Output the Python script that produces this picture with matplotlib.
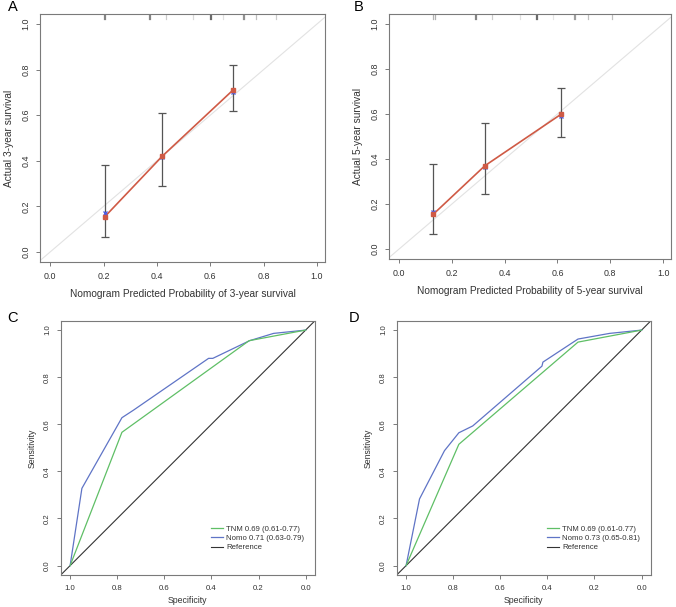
import matplotlib
matplotlib.use("Agg")
import matplotlib.pyplot as plt

plt.rcParams['font.family'] = ['Liberation Sans', 'DejaVu Sans']

# ---- Calibration data (A: 3-year, B: 5-year)
a_pred = [0.205, 0.42, 0.685]
a_obs = [0.155, 0.42, 0.71]
a_ideal = [0.17, 0.415, 0.70]
a_lo = [0.065, 0.29, 0.62]
a_hi = [0.38, 0.61, 0.82]
a_rug = [0.203, 0.206, 0.372, 0.375, 0.435, 0.537, 0.599, 0.602, 0.648, 0.722, 0.725, 0.771, 0.846]
a_rug_alpha = [0.45, 0.45, 0.45, 0.45, 0.2, 0.15, 0.55, 0.55, 0.12, 0.4, 0.4, 0.25, 0.2]

b_pred = [0.13, 0.325, 0.615]
b_obs = [0.155, 0.37, 0.60]
b_ideal = [0.165, 0.365, 0.59]
b_lo = [0.065, 0.245, 0.50]
b_hi = [0.38, 0.56, 0.715]
b_rug = [0.13, 0.136, 0.288, 0.291, 0.353, 0.459, 0.519, 0.523, 0.582, 0.662, 0.666, 0.714, 0.807]
b_rug_alpha = [0.3, 0.3, 0.45, 0.45, 0.2, 0.12, 0.55, 0.55, 0.1, 0.35, 0.35, 0.25, 0.25]

# ---- ROC data
c_nomo_spec = [1.0, 0.950, 0.780, 0.731, 0.412, 0.394, 0.238, 0.136, 0.0]
c_nomo_sens = [0.0, 0.328, 0.628, 0.660, 0.880, 0.880, 0.955, 0.986, 1.0]
c_tnm_spec = [1.0, 0.780, 0.240, 0.0]
c_tnm_sens = [0.0, 0.566, 0.955, 1.0]
c_labels = ["TNM 0.69 (0.61-0.77)", "Nomo 0.71 (0.63-0.79)", "Reference"]

d_nomo_spec = [1.0, 0.943, 0.837, 0.776, 0.717, 0.423, 0.419, 0.270, 0.136, 0.0]
d_nomo_sens = [0.0, 0.283, 0.488, 0.564, 0.593, 0.847, 0.864, 0.962, 0.986, 1.0]
d_tnm_spec = [1.0, 0.776, 0.270, 0.0]
d_tnm_sens = [0.0, 0.515, 0.949, 1.0]
d_labels = ["TNM 0.69 (0.61-0.77)", "Nomo 0.73 (0.65-0.81)", "Reference"]

ticks = [0.0, 0.2, 0.4, 0.6, 0.8, 1.0]
tick_labels = ["0.0", "0.2", "0.4", "0.6", "0.8", "1.0"]

RED = "#cf5a45"
BLUE_X = "#4d5fe6"
GREEN = "#5fbf66"
BLUE = "#5f74c6"
BOX = "#7a7a7a"

fig = plt.figure(figsize=(6.76, 6.07), dpi=100)


def style(ax, fs_tick):
    for s in ax.spines.values():
        s.set_color(BOX)
        s.set_linewidth(0.8)
    ax.set_xticks(ticks)
    ax.set_xticklabels(tick_labels)
    ax.set_yticks(ticks)
    ax.set_yticklabels(tick_labels, rotation=90, va='center')
    ax.tick_params(direction='out', length=3, width=0.7, color=BOX,
                   labelsize=fs_tick, labelcolor='#333333', pad=4)


def calib(pos, pred, obs, ideal, lo, hi, rug, rug_alpha, xlabel, ylabel):
    ax = fig.add_axes(pos)
    ax.set_xlim(-0.038, 1.03)
    ax.set_ylim(-0.044, 1.044)
    ax.plot([-0.1, 1.1], [-0.1, 1.1], color='#e2e2e2', lw=0.8, zorder=1)
    for x, a in zip(rug, rug_alpha):
        ax.plot([x, x], [1.02, 1.044], color='black', alpha=a, lw=0.9, zorder=2)
    ax.errorbar(pred, obs, yerr=[[o - l for o, l in zip(obs, lo)], [h - o for o, h in zip(obs, hi)]],
                fmt='none', ecolor='#555555', elinewidth=0.9, capsize=3, capthick=0.9, zorder=3)
    ax.plot(pred, obs, color=RED, lw=1.2, zorder=4)
    ax.plot(pred, ideal, 'x', color=BLUE_X, ms=3.5, mew=1.0, zorder=5)
    ax.plot(pred, obs, 's', color=RED, ms=3, zorder=6)
    style(ax, 6.4)
    ax.set_xlabel(xlabel, fontsize=7.3, color='#333333', labelpad=6)
    ax.set_ylabel(ylabel, fontsize=7.3, color='#333333', labelpad=5)
    return ax


def roc(pos, nspec, nsens, tspec, tsens, labels):
    ax = fig.add_axes(pos)
    ax.set_xlim(1.04, -0.04)
    ax.set_ylim(-0.04, 1.04)
    ax.axline((1.0, 0.0), (0.0, 1.0), color='#333333', lw=0.8, zorder=1)
    l1, = ax.plot(tspec, tsens, color=GREEN, lw=0.9, zorder=3)
    l2, = ax.plot(nspec, nsens, color=BLUE, lw=0.9, zorder=2)
    l3 = plt.Line2D([], [], color='#333333', lw=0.8)
    ax.legend([l1, l2, l3], labels, loc='lower right', frameon=False, fontsize=5.6,
              handlelength=1.6, handletextpad=0.4, labelspacing=0.25,
              bbox_to_anchor=(0.985, 0.065), labelcolor='#333333')
    style(ax, 5.6)
    ax.set_xlabel("Specificity", fontsize=6.3, color='#333333', labelpad=3)
    ax.set_ylabel("Sensitivity", fontsize=6.3, color='#333333', labelpad=5)
    return ax


calib([0.0592, 0.5684, 0.4216, 0.4086], a_pred, a_obs, a_ideal, a_lo, a_hi, a_rug, a_rug_alpha,
      "Nomogram Predicted Probability of 3-year survival", "Actual 3-year survival")
calib([0.5754, 0.5733, 0.4172, 0.4036], b_pred, b_obs, b_ideal, b_lo, b_hi, b_rug, b_rug_alpha,
      "Nomogram Predicted Probability of 5-year survival", "Actual 5-year survival")
roc([0.0898, 0.0527, 0.3762, 0.4190], c_nomo_spec, c_nomo_sens, c_tnm_spec, c_tnm_sens, c_labels)
roc([0.5868, 0.0527, 0.3762, 0.4190], d_nomo_spec, d_nomo_sens, d_tnm_spec, d_tnm_sens, d_labels)

for letter, x, y in [("A", 8, 0), ("B", 354, 0), ("C", 7, 311), ("D", 349, 311)]:
    fig.text(x / 676, 1 - y / 607, letter, fontsize=10.5, va='top', ha='left', color='black')

fig.savefig("out.png", dpi=100)
